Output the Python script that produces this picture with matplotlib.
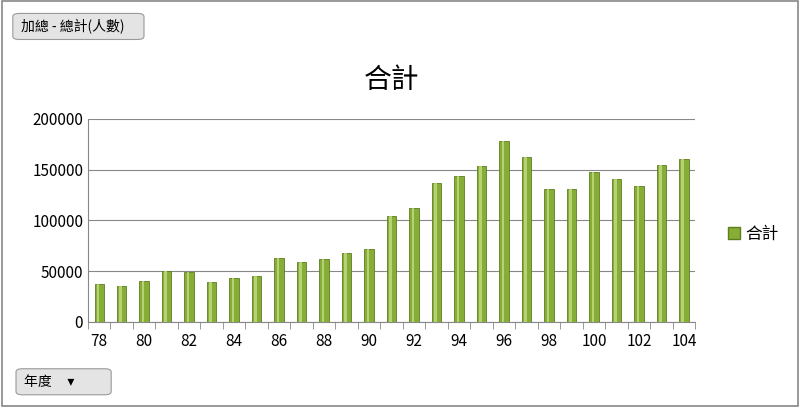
import matplotlib
matplotlib.use("Agg")
import matplotlib.pyplot as plt
from matplotlib.patches import FancyBboxPatch, Rectangle
import numpy as np

plt.rcParams['font.family'] = ['Noto Sans CJK TC', 'DejaVu Sans']

years = list(range(78, 105))
values = [37000, 35500, 40000, 50000, 49000, 39500, 43000, 45000, 63000, 59000,
          62000, 68000, 72000, 104000, 112000, 137000, 144000, 154000, 178000, 162000,
          131000, 131000, 148000, 141000, 134000, 155000, 160000]
series_name = "合計"
title = "合計"

fig = plt.figure(figsize=(8, 4.07), dpi=100)
fig.patches.append(Rectangle((0.002, 0.003), 0.996, 0.994, transform=fig.transFigure,
                             fill=False, edgecolor='#888888', lw=1.2))
ax = fig.add_axes([0.11, 0.209, 0.759, 0.499])
x = np.arange(len(years))
ax.bar(x, values, width=0.42, color='#86ad35', edgecolor='#5d7d1f', lw=0.6, label=series_name, zorder=3)
ax.bar(x - 0.05, values, width=0.12, color='#c4dc86', lw=0, zorder=4, alpha=0.8)
ax.set_xlim(-0.5, len(years) - 0.5)
ax.set_ylim(0, 200000)
ax.set_yticks(range(0, 200001, 50000))
ax.set_xticks(x[::2])
ax.set_xticklabels([str(y) for y in years[::2]])
ax.set_xticks(np.arange(-0.5, len(years), 1), minor=True)
ax.tick_params(axis='x', which='major', length=0, labelsize=11, pad=8)
ax.tick_params(axis='x', which='minor', length=5, color='#888888')
ax.tick_params(axis='y', length=0, labelsize=11)
ax.grid(axis='y', color='#888888', lw=0.8, zorder=0)
for s in ['top', 'right']:
    ax.spines[s].set_visible(False)
for s in ['left', 'bottom']:
    ax.spines[s].set_color('#888888')
ax.set_title(title, fontsize=20, pad=22)
from matplotlib.patches import Patch
ax.legend(handles=[Patch(facecolor='#86ad35', edgecolor='#5d7d1f', label=series_name)],
          loc='center left', bbox_to_anchor=(1.03, 0.43), frameon=False, fontsize=12,
          handlelength=0.7, handletextpad=0.3)

for (bx, by, bw, bh, txt) in [(0.018, 0.905, 0.16, 0.06, "加總 - 總計(人數)"),
                              (0.022, 0.032, 0.115, 0.06, "年度     ▾")]:
    fig.patches.append(FancyBboxPatch((bx, by), bw, bh, boxstyle="round,pad=0.002,rounding_size=0.008",
                                      transform=fig.transFigure, facecolor='#e4e4e4',
                                      edgecolor='#9a9a9a', lw=0.8))
    fig.text(bx + 0.008, by + bh / 2, txt, fontsize=10, va='center', ha='left')

fig.savefig("out.png", dpi=100)
